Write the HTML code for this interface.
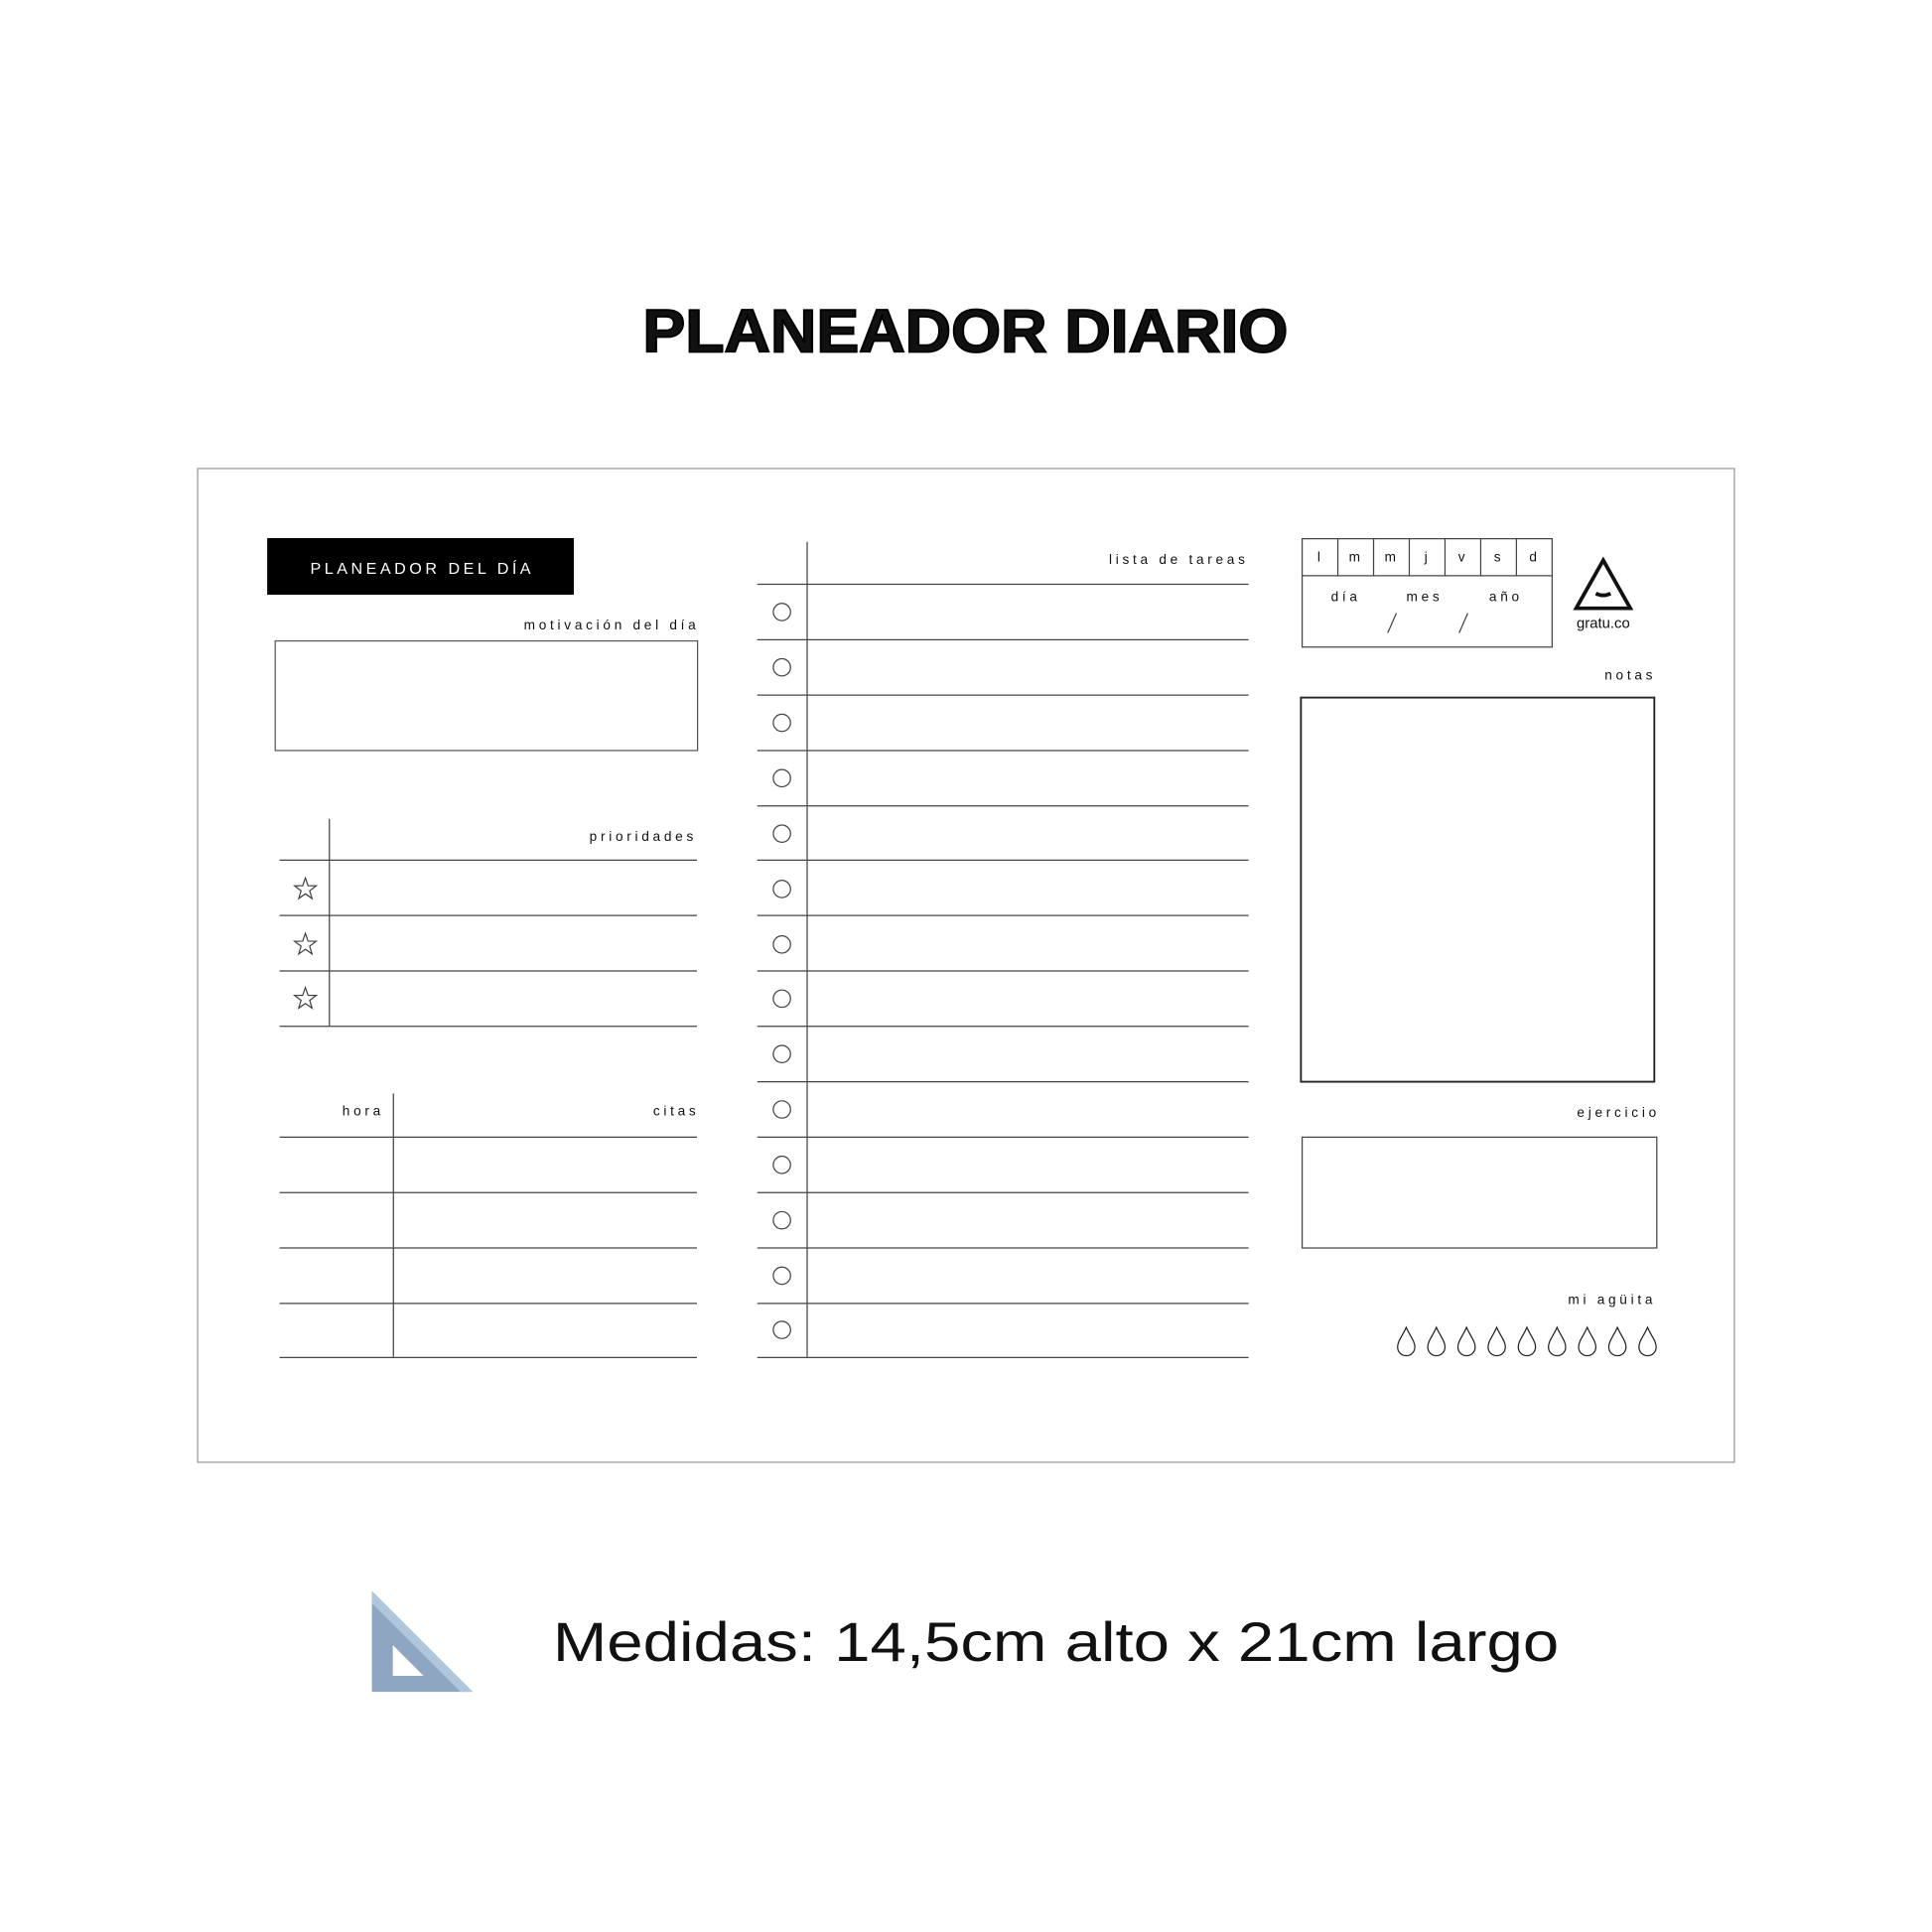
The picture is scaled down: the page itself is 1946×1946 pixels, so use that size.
<!DOCTYPE html>
<html><head><meta charset="utf-8"><style>
html,body{margin:0;padding:0;background:#fff;width:1946px;height:1946px;overflow:hidden}
svg{display:block}
text{font-family:"Liberation Sans",sans-serif;fill:#111}
.s{font-size:11px;letter-spacing:3px}
</style></head><body>
<svg width="1946" height="1946" viewBox="0 0 1569 1569" xmlns="http://www.w3.org/2000/svg">
<rect width="1569" height="1569" fill="#fff"/>
<text x="522" y="286" font-size="49" font-weight="bold" textLength="524" lengthAdjust="spacingAndGlyphs" stroke="#000" stroke-width="1.5">PLANEADOR DIARIO</text>
<rect x="160.5" y="380.5" width="1248" height="807" fill="none" stroke="#999" stroke-width="1"/>
<rect x="217" y="437" width="249" height="46" fill="#000"/>
<text x="252" y="466" font-size="13" style="fill:#fff" textLength="179" lengthAdjust="spacing">PLANEADOR DEL DÍA</text>
<text x="568" y="511" class="s" text-anchor="end">motivación del día</text>
<rect x="223.5" y="520.5" width="343" height="89" fill="none" stroke="#555" stroke-width="1"/>
<g stroke="#444" stroke-width="1" fill="none">
<line x1="267.5" y1="665" x2="267.5" y2="833"/>
<line x1="227" y1="698.5" x2="566" y2="698.5"/>
<line x1="227" y1="743.5" x2="566" y2="743.5"/>
<line x1="227" y1="788.5" x2="566" y2="788.5"/>
<line x1="227" y1="833.5" x2="566" y2="833.5"/>
<line x1="319.5" y1="888" x2="319.5" y2="1102"/>
<line x1="227" y1="923.5" x2="566" y2="923.5"/>
<line x1="227" y1="968.5" x2="566" y2="968.5"/>
<line x1="227" y1="1013.5" x2="566" y2="1013.5"/>
<line x1="227" y1="1058.5" x2="566" y2="1058.5"/>
<line x1="227" y1="1102.5" x2="566" y2="1102.5"/>
<line x1="655.5" y1="440" x2="655.5" y2="1102"/>
<path d="M615 474.5H1014M615 519.5H1014M615 564.5H1014M615 609.5H1014M615 654.5H1014M615 698.5H1014M615 743.5H1014M615 788.5H1014M615 833.5H1014M615 878.5H1014M615 923.5H1014M615 968.5H1014M615 1013.5H1014M615 1058.5H1014M615 1102.5H1014"/>
<g stroke-width="1">
<circle cx="635" cy="497" r="7"/><circle cx="635" cy="542" r="7"/><circle cx="635" cy="587" r="7"/><circle cx="635" cy="632" r="7"/><circle cx="635" cy="677" r="7"/><circle cx="635" cy="722" r="7"/><circle cx="635" cy="767" r="7"/><circle cx="635" cy="811" r="7"/><circle cx="635" cy="856" r="7"/><circle cx="635" cy="901" r="7"/><circle cx="635" cy="946" r="7"/><circle cx="635" cy="991" r="7"/><circle cx="635" cy="1036" r="7"/><circle cx="635" cy="1080" r="7"/>
</g>
<g id="st"><path d="M248 713 L250.2 719.3 L256.8 719.4 L251.5 723.4 L253.4 729.7 L248 725.9 L242.6 729.7 L244.5 723.4 L239.2 719.4 L245.8 719.3 Z"/></g>
<use href="#st" y="45"/><use href="#st" y="89"/>
<rect x="1057.5" y="437.5" width="203" height="88"/>
<path d="M1057 467.5H1260M1086.5 437V467M1115.5 437V467M1144.5 437V467M1173.5 437V467M1202.5 437V467M1231.5 437V467"/>
<path d="M1134 498L1127 514M1192 498L1185 514"/>
<path d="M1302 455L1280 494H1324Z" stroke="#111" stroke-width="3"/>
<path d="M1296 482Q1302 485 1308 482" stroke="#111" stroke-width="3"/>
<rect x="1056.5" y="566.5" width="287" height="312" stroke="#222" stroke-width="1.5"/>
<rect x="1057.5" y="923.5" width="288" height="90"/>
</g>
<g font-size="11" text-anchor="middle">
<text x="1071" y="456">l</text><text x="1100" y="456">m</text><text x="1129" y="456">m</text><text x="1158" y="456">j</text><text x="1187" y="456">v</text><text x="1216" y="456">s</text><text x="1245" y="456">d</text>
<text x="1093" y="488" class="s">día</text><text x="1157" y="488" class="s">mes</text><text x="1223" y="488" class="s">año</text>
<text x="1302" y="510" font-size="12">gratu.co</text>
</g>
<text x="566" y="683" class="s" text-anchor="end">prioridades</text>
<text x="278" y="906" class="s">hora</text>
<text x="568" y="906" class="s" text-anchor="end">citas</text>
<text x="1014" y="458" class="s" text-anchor="end">lista de tareas</text>
<text x="1345" y="552" class="s" text-anchor="end">notas</text>
<text x="1348" y="907" class="s" text-anchor="end">ejercicio</text>
<text x="1345" y="1059" class="s" text-anchor="end">mi agüita</text>
<g fill="none" stroke="#222" stroke-width="1">
<path id="dr" d="M1142 1078 C1145 1085 1149 1089 1149 1094 A7 7 0 0 1 1135 1094 C1135 1089 1139 1085 1142 1078Z"/>
<use href="#dr" x="24.5"/><use href="#dr" x="49"/><use href="#dr" x="73.5"/><use href="#dr" x="98"/><use href="#dr" x="122.5"/><use href="#dr" x="147"/><use href="#dr" x="171.5"/><use href="#dr" x="196"/>
</g>
<path d="M302 1292 L384 1374 L302 1374 Z" fill="#8ea6c2"/>
<path d="M302 1292 L384 1374 L374 1374 L302 1302 Z" fill="#b0c6dc"/>
<path d="M319 1336 L344 1361 L319 1361 Z" fill="#fff"/>
<text x="449" y="1349" font-size="45" textLength="817" lengthAdjust="spacingAndGlyphs">Medidas: 14,5cm alto x 21cm largo</text>
</svg>
</body></html>
